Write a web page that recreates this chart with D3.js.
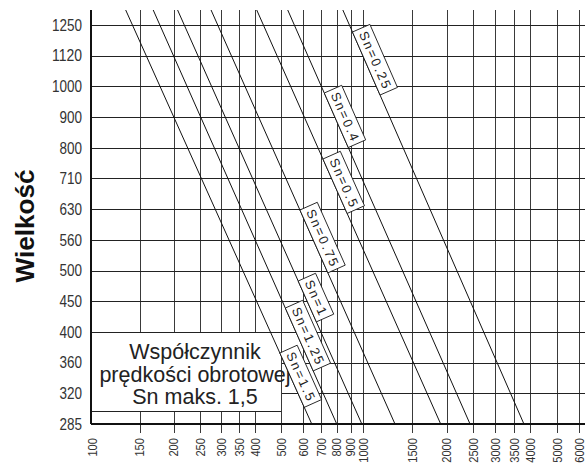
<!DOCTYPE html>
<html>
<head>
<meta charset="utf-8">
<script src="https://cdn.jsdelivr.net/npm/d3@7"></script>
<style>
  body { margin: 0; background: #fff; }
  svg { display: block; }
</style>
</head>
<body>
<script>
// Sizes (rows, bottom to top)
let sizes = ["285", "320", "360", "400", "450", "500", "560", "630", "710", "800", "900", "1000", "1120", "1250"];

// Speed ticks on the bottom axis
let speeds = [100, 150, 200, 250, 300, 350, 400, 500, 600, 700, 800, 900, 1000, 1500, 2000, 2500, 3000, 3500, 4000, 5000, 6000];

// Sn lines: speed where each line crosses size 285 and size 1250
let snLabels = ["Sn=0.25", "Sn=0.4", "Sn=0.5", "Sn=0.75", "Sn=1", "Sn=1.25", "Sn=1.5"];
let speedAt285 = [3800, 2430, 1905, 1304, 990, 800, 647];
let speedAt1250 = [891, 558, 429, 291, 219, 178, 141];

let noteLines = ["Współczynnik", "prędkości obrotowej", "Sn maks. 1,5"];

let width = 585, height = 470;
let plotTop = 10, plotBottom = 424, plotLeft = 91;

// where along each line (pixel y) the label box starts
let labelStart = [32, 93, 159, 210, 281, 308, 353];

let svg = d3.select("body").append("svg")
    .attr("width", width)
    .attr("height", height);

let x = d3.scaleLog()
    .domain([100, 1000, 6000])
    .range([92, 363, 579]);

let y = d3.scalePoint()
    .domain(sizes)
    .range([plotBottom, 25]);

let px = v => Math.round(x(v)) + 0.5;
let py = v => Math.round(y(v)) + 0.5;

// vertical grid + tick marks
svg.append("g")
  .selectAll("line")
  .data(speeds.slice(1))
  .enter().append("line")
    .attr("x1", d => px(d)).attr("x2", d => px(d))
    .attr("y1", plotTop).attr("y2", plotBottom + 9)
    .style("stroke", "#3a3a3a")
    .style("stroke-width", 1);

// horizontal grid
svg.append("g")
  .selectAll("line")
  .data(sizes.slice(1))
  .enter().append("line")
    .attr("x1", plotLeft).attr("x2", width)
    .attr("y1", d => py(d)).attr("y2", d => py(d))
    .style("stroke", "#222")
    .style("stroke-width", 1);

// note box
let boxTop = py("400"), boxBottom = 411.5, boxRight = px(500);
svg.append("rect")
    .attr("x", plotLeft).attr("y", boxTop + 0.5)
    .attr("width", boxRight - plotLeft).attr("height", boxBottom - boxTop - 1)
    .style("fill", "#fff");
svg.append("line")
    .attr("x1", plotLeft).attr("x2", boxRight)
    .attr("y1", boxBottom).attr("y2", boxBottom)
    .style("stroke", "#222");
svg.append("line")
    .attr("x1", boxRight).attr("x2", boxRight)
    .attr("y1", boxTop).attr("y2", boxBottom)
    .style("stroke", "#3a3a3a");

svg.append("g")
  .selectAll("text")
  .data(noteLines)
  .enter().append("text")
    .attr("x", 195)
    .attr("y", (d, i) => 359 + i * 22.7)
    .attr("text-anchor", "middle")
    .style("font-family", "'Liberation Sans', Arial, sans-serif")
    .style("font-size", "21.5px")
    .style("fill", "#222")
    .text(d => d);

// Sn lines
let lines = snLabels.map((label, i) => {
  let x1 = x(speedAt1250[i]), y1 = y("1250");
  let x2 = x(speedAt285[i]), y2 = y("285");
  let k = (x2 - x1) / (y2 - y1);
  return {label: label, xTop: x1 + (plotTop - y1) * k, k: k, xBottom: x2,
          angle: Math.atan2(y2 - y1, x2 - x1) * 180 / Math.PI, start: labelStart[i]};
});

svg.append("g")
  .selectAll("line")
  .data(lines)
  .enter().append("line")
    .attr("x1", d => d.xTop).attr("y1", plotTop)
    .attr("x2", d => d.xBottom).attr("y2", plotBottom)
    .style("stroke", "#111")
    .style("stroke-width", 1);

// Sn label boxes
let tag = svg.append("g")
  .selectAll("g")
  .data(lines)
  .enter().append("g")
    .attr("transform", d => "translate(" + (d.xTop + (d.start - plotTop) * d.k) + "," + d.start + ") rotate(" + d.angle + ")");

tag.append("text")
    .attr("x", 4)
    .attr("y", -5)
    .style("font-family", "'Liberation Sans', Arial, sans-serif")
    .style("font-size", "13px")
    .style("letter-spacing", "2px")
    .style("fill", "#222")
    .text(d => d.label);

tag.insert("rect", "text")
    .attr("x", 0).attr("y", -19)
    .attr("width", function() { return this.parentNode.querySelector("text").getComputedTextLength() + 6; })
    .attr("height", 19)
    .style("fill", "#fff")
    .style("stroke", "#111")
    .style("stroke-width", 0.8);

// axes
svg.append("line")
    .attr("x1", plotLeft).attr("x2", plotLeft)
    .attr("y1", plotTop).attr("y2", plotBottom)
    .style("stroke", "#111").style("stroke-width", 2);
svg.append("line")
    .attr("x1", plotLeft).attr("x2", width)
    .attr("y1", plotBottom).attr("y2", plotBottom)
    .style("stroke", "#111").style("stroke-width", 2);

// y tick labels (narrow face)
svg.append("g")
  .selectAll("text")
  .data(sizes)
  .enter().append("text")
    .attr("x", 82)
    .attr("y", d => y(d))
    .attr("dy", "0.36em")
    .attr("text-anchor", "end")
    .attr("textLength", d => d.length * 7.5)
    .attr("lengthAdjust", "spacingAndGlyphs")
    .style("font-family", "'Liberation Sans', Arial, sans-serif")
    .style("font-size", "16px")
    .style("fill", "#333")
    .text(d => d);

// x tick labels
svg.append("g")
  .selectAll("text")
  .data(speeds)
  .enter().append("text")
    .attr("transform", d => "translate(" + x(d) + ",438) rotate(-90)")
    .attr("dy", "0.36em")
    .attr("text-anchor", "end")
    .attr("textLength", d => String(d).length * 6.2)
    .attr("lengthAdjust", "spacingAndGlyphs")
    .style("font-family", "'Liberation Sans', Arial, sans-serif")
    .style("font-size", "13px")
    .style("fill", "#333")
    .text(d => d);

// y title
svg.append("text")
    .attr("transform", "translate(34,226) rotate(-90)")
    .attr("text-anchor", "middle")
    .attr("textLength", 113)
    .attr("lengthAdjust", "spacingAndGlyphs")
    .style("font-family", "'Liberation Sans', Arial, sans-serif")
    .style("font-size", "25px")
    .style("font-weight", "bold")
    .style("fill", "#111")
    .text("Wielkość");
</script>
</body>
</html>
